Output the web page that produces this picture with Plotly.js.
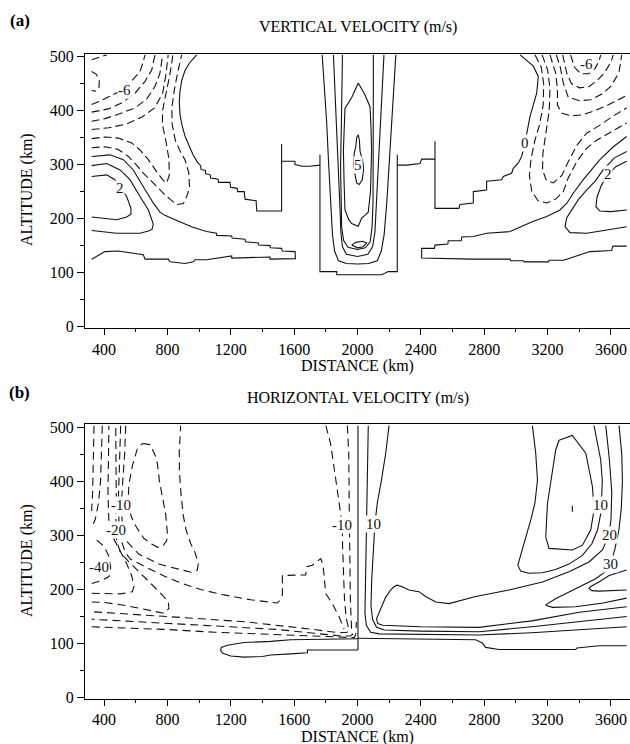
<!DOCTYPE html>
<html><head><meta charset="utf-8">
<script src="https://cdn.plot.ly/plotly-3.0.1.min.js"></script>
<style>body{margin:0;background:#fff}#chart{width:630px;height:744px}</style>
</head><body><div id="chart"></div>
<script>
// ---------- Panel (a): vertical velocity, contour polylines [distance km, altitude km] ----------
const vA_zeroLeft = [[985,503],[940,488],[911,474],[890,455],[879,435],[875,415],[880,392],[893,372],[912,352],[935,335],[962,318],[990,304],[1010,298],[1012,291],[1040,289],[1043,283],[1070,281],[1073,275],[1120,273],[1123,267],[1195,267],[1199,258],[1240,256],[1244,250],[1285,250],[1290,236],[1360,233],[1364,214],[1521,214],[1521,338]];
const vA_shelfLeft = [[1521,306],[1605,306],[1605,300],[1650,297],[1700,297],[1763,299]];
const vA_box = [[1763,318],[1763,102],[1869,102],[1869,96],[2153,96],[2194,102],[2251,102],[2251,318]];
const vA_shelfRight = [[2251,299],[2310,299],[2395,302],[2405,310],[2489,310]];
const vA_zeroRight = [[2489,343],[2489,219],[2640,219],[2647,226],[2731,229],[2731,250],[2815,253],[2815,269],[2910,272],[2920,278],[2973,284],[2983,293],[3015,303],[3036,315],[3047,327],[3057,340],[3089,389],[3131,432],[3141,463],[3110,482],[3026,503]];
const vA_tongueLeft = [[322,315],[438,318],[522,309],[585,290],[648,259],[711,229],[753,212],[785,206],[830,200],[869,195],[960,184],[1048,176],[1110,173],[1112,169],[1206,168],[1209,164],[1290,162],[1293,157],[1374,155],[1377,151],[1448,150],[1451,146],[1521,145],[1525,140],[1606,139],[1608,126],[1448,125],[1448,129],[1290,127],[1206,127],[1206,131],[1048,124],[974,124],[964,120],[911,117],[817,120],[806,125],[659,125],[648,133],[564,136],[490,140],[406,139],[322,125]];
const vA_lobeLeft = [[322,298],[417,302],[501,290],[564,272],[627,241],[680,216],[711,190],[703,180],[680,177],[627,173],[480,173],[322,178]];
const vA_coreLeft = [[322,278],[417,281],[469,272],[504,256],[543,241],[570,219],[570,208],[543,203],[480,198],[396,201],[322,203]];
const vA_tongueRight = [[3699,352],[3615,333],[3530,309],[3425,272],[3362,247],[3320,228],[3278,216],[3194,204],[3110,195],[2984,180],[2963,176],[2815,173],[2731,167],[2658,166],[2655,159],[2573,159],[2570,153],[2489,151],[2486,145],[2405,145],[2405,127],[2721,125],[2963,125],[2966,122],[3047,122],[3052,120],[3205,120],[3210,123],[3299,123],[3320,125],[3405,133],[3467,139],[3604,141],[3612,149],[3699,149]];
const vA_lobeRight = [[3699,185],[3573,179],[3447,173],[3341,174],[3310,185],[3320,201],[3352,216],[3394,235],[3447,253],[3499,269],[3550,290],[3620,312],[3699,324]];
const vA_coreRight = [[3699,216],[3600,213],[3530,214],[3505,222],[3512,240],[3540,262],[3583,282],[3630,296],[3699,306]];
const vA_updraft1 = [[1777,503],[1790,450],[1805,380],[1818,300],[1830,230],[1842,170],[1855,140],[1880,122],[1930,117],[2000,116],[2070,117],[2125,122],[2150,140],[2168,170],[2185,230],[2200,300],[2215,380],[2230,450],[2242,503]];
const vA_updraft2 = [[1848,503],[1858,440],[1868,370],[1878,300],[1888,230],[1895,175],[1905,148],[1930,134],[2000,130],[2065,134],[2095,148],[2110,175],[2120,230],[2132,300],[2145,370],[2156,440],[2167,503]];
const vA_updraft3 = [[1905,503],[1903,440],[1898,370],[1893,300],[1895,230],[1900,185],[1912,160],[1940,147],[2000,143],[2050,146],[2080,157],[2092,185],[2098,230],[2100,300],[2100,370],[2100,440],[2100,503]];
const vA_updraft4 = [[2005,451],[1965,425],[1921,404],[1913,360],[1911,327],[1915,270],[1921,216],[1945,198],[1963,191],[2005,186],[2015,195],[2026,201],[2050,207],[2068,212],[2082,250],[2089,327],[2085,370],[2079,407],[2045,430],[2005,451]];
const vA_updraft5 = [[2005,355],[2012,345],[2016,325],[2034,305],[2038,290],[2030,272],[2010,263],[1995,266],[1985,280],[1976,300],[1979,320],[1990,335],[1995,350],[2005,355]];
const vA_updraftBlip = [[1963,151],[1990,156],[2030,158],[2058,155],[2035,148],[2000,146],[1963,151]];
const vA_negCorner = [[322,494],[370,498],[417,503]];
const vA_negHook = [[322,472],[352,467],[370,455],[368,442],[348,436],[322,437]];
const vA_neg6Left = [[322,411],[364,416],[448,428],[532,440],[575,455],[627,472],[645,488],[659,503]];
const vA_negL4 = [[322,397],[427,403],[511,414],[596,432],[659,454],[701,475],[722,503]];
const vA_negL5 = [[322,380],[406,385],[490,393],[596,405],[669,421],[722,445],[753,469],[770,503]];
const vA_negL6 = [[322,365],[430,368],[540,375],[640,388],[720,405],[770,432],[790,465],[805,503]];
const vA_bowlInner = [[322,348],[406,351],[490,349],[575,340],[627,327],[680,309],[732,287],[770,272],[795,266],[812,280],[810,310],[790,345],[768,375],[770,400],[790,430],[815,465],[835,503]];
const vA_bowlOuter = [[322,331],[406,333],[490,328],[554,315],[606,299],[648,284],[701,269],[743,256],[785,244],[820,235],[859,226],[901,228],[922,241],[940,258],[935,285],[912,308],[880,325],[850,345],[830,375],[828,405],[845,440],[865,470],[890,503]];
const vA_bowlOuterR = [[3120,503],[3160,480],[3175,450],[3172,410],[3150,375],[3120,345],[3095,310],[3085,280],[3100,250],[3140,233],[3194,229],[3250,236],[3299,250],[3330,275],[3383,305],[3446,330],[3509,345],[3594,360],[3699,377]];
const vA_bowlInnerR = [[3165,503],[3200,475],[3215,440],[3210,400],[3190,360],[3170,320],[3168,290],[3190,272],[3236,266],[3290,280],[3330,305],[3383,335],[3446,358],[3530,373],[3615,390],[3699,405]];
const vA_negR3 = [[3215,503],[3250,470],[3262,440],[3262,410],[3290,395],[3350,390],[3420,392],[3500,400],[3580,410],[3650,420],[3699,428]];
const vA_negR4 = [[3255,503],[3280,480],[3300,450],[3330,425],[3400,418],[3470,420],[3540,430],[3600,445],[3650,470],[3668,503]];
const vA_negR5 = [[3295,503],[3320,470],[3350,450],[3400,442],[3460,444],[3510,455],[3560,470],[3600,490],[3615,503]];
const vA_neg6Right = [[3345,503],[3370,480],[3410,468],[3460,468],[3500,478],[3525,492],[3535,503]];

// ---------- Panel (b): horizontal velocity ----------
const uB_zeroVert = [[2003,503],[2003,88]];
const uB_zeroLeft = [[2003,109],[1726,108],[1578,107],[1452,104],[1284,102],[1178,97],[1140,93],[1136,87],[1150,82],[1200,77],[1284,75],[1400,76],[1452,79],[1578,81],[1684,83],[1684,88],[2003,88]];
const uB_zeroRight = [[2003,110],[2300,109],[2746,107],[2788,101],[2809,93],[2893,89],[3377,89],[3385,92],[3524,96],[3699,96]];
const uB_pos10a = [[2068,503],[2064,440],[2058,360],[2052,280],[2047,200],[2047,156],[2056,134],[2083,121],[2136,118],[2400,117],[2767,116],[3100,120],[3400,125],[3699,131]];
const uB_pos10b = [[2199,503],[2178,452],[2150,400],[2125,360],[2110,322],[2098,270],[2090,220],[2085,170],[2095,145],[2120,130],[2170,125],[2400,123],[2767,122],[3100,131],[3400,141],[3699,150]];
const uB_pos20 = [[3567,503],[3590,440],[3605,380],[3600,330],[3588,301],[3546,273],[3461,251],[3335,233],[3167,214],[2956,199],[2746,187],[2578,174],[2494,177],[2430,187],[2388,196],[2325,199],[2283,205],[2250,208],[2230,205],[2209,199],[2178,186],[2157,172],[2136,158],[2120,146],[2128,137],[2160,134],[2400,131],[2767,130],[3100,142],[3400,158],[3699,168]];
const uB_pos10U = [[3104,503],[3125,452],[3136,402],[3120,360],[3095,330],[3060,295],[3025,262],[3012,245],[3030,234],[3080,230],[3167,231],[3250,237],[3335,247],[3420,263],[3480,285],[3515,310],[3535,340],[3540,360],[3545,402],[3535,440],[3515,470],[3493,503]];
const uB_pos30 = [[3651,503],[3668,450],[3672,400],[3665,350],[3650,310],[3625,275],[3598,247],[3560,232],[3503,220],[3420,208],[3335,196],[3250,183],[3200,174],[3188,171],[3230,167],[3377,168],[3550,175],[3699,184]];
const uB_pos40 = [[3699,236],[3588,226],[3524,214],[3475,206],[3461,202],[3480,198],[3524,197],[3600,198],[3699,199]];
const uB_posLoop = [[3272,476],[3356,485],[3441,452],[3483,390],[3493,347],[3472,310],[3420,282],[3356,273],[3209,276],[3188,297],[3199,359],[3230,421],[3251,458],[3272,476]];
const uB_posDot = [[3356,344],[3356,355]];
const uB_neg40 = [[322,211],[379,216],[432,224],[442,240],[430,262],[400,280],[360,290],[322,293]];
const uB_negEdge1 = [[337,503],[335,460],[332,420],[328,380],[322,345]];
const uB_negEdge2 = [[389,503],[385,450],[378,400],[365,360],[345,330],[322,315]];
const uB_neg193 = [[322,193],[421,192],[505,192],[579,196],[589,205],[575,225],[540,250],[490,278],[450,300],[430,330],[425,380],[428,440],[431,503]];
const uB_neg20 = [[322,177],[400,176],[526,171],[631,165],[716,159],[779,156],[810,165],[805,178],[758,193],[694,211],[631,230],[568,248],[505,267],[480,290],[474,310],[478,360],[476,420],[474,503]];
const uB_negStep = [[505,503],[500,450],[492,400],[490,360],[495,320],[510,290],[535,268],[568,256],[673,240],[779,225],[884,212],[1010,200],[1157,190],[1326,181],[1494,175],[1512,181],[1526,190],[1526,226],[1673,227],[1680,242],[1715,245],[1750,252],[1768,257],[1780,248],[1788,230],[1799,193],[1841,174],[1883,150],[1904,134],[1915,127]];
const uB_negU = [[537,503],[530,450],[518,400],[510,356],[515,320],[540,290],[621,265],[747,247],[880,237],[950,232],[989,236],[995,248],[975,268],[947,285],[920,308],[900,337],[885,380],[876,420],[875,455],[884,503]];
const uB_negLoop = [[642,470],[690,468],[720,450],[737,433],[750,400],[768,370],[789,340],[800,304],[795,290],[770,280],[740,278],[700,284],[650,295],[605,315],[572,335],[552,360],[557,395],[580,430],[610,460],[642,470]];
const uB_negV1 = [[1800,503],[1830,470],[1850,430],[1875,380],[1895,340],[1904,319],[1906,280],[1910,230],[1918,180],[1930,145],[1945,127],[1935,121],[1880,120],[1726,126],[1500,134],[1300,140],[1010,146],[800,150],[589,154],[442,157],[322,159]];
const uB_negV2 = [[1936,503],[1945,450],[1948,350],[1950,250],[1955,180],[1962,130],[1968,117],[1955,114],[1900,114],[1726,119],[1500,126],[1200,131],[900,136],[650,140],[450,143],[322,145]];
const uB_negN3 = [[322,131],[500,129],[800,126],[1100,121],[1450,117],[1726,113],[1900,111],[1980,111],[1990,118],[1993,140]];

// contour labels: [text, distance, altitude]
const labelsA = [["-6",532,438],["2",504,256],["5",2003,300],["0",3057,340],["-6",3446,486],["2",3583,283]];
const labelsB = [["-10",505,356],["-20",474,310],["-40",368,242],["-10",1904,319],["10",2104,322],["10",3535,356],["20",3588,301],["30",3598,247]];

const solidA = [vA_zeroLeft,vA_shelfLeft,vA_box,vA_shelfRight,vA_zeroRight,vA_tongueLeft,vA_lobeLeft,vA_coreLeft,vA_tongueRight,vA_lobeRight,vA_coreRight,vA_updraft1,vA_updraft2,vA_updraft3,vA_updraft4,vA_updraft5,vA_updraftBlip];
const dashA = [vA_negCorner,vA_negHook,vA_neg6Left,vA_negL4,vA_negL5,vA_negL6,vA_bowlInner,vA_bowlOuter,vA_bowlOuterR,vA_bowlInnerR,vA_negR3,vA_negR4,vA_negR5,vA_neg6Right];
const solidB = [uB_zeroVert,uB_zeroLeft,uB_zeroRight,uB_pos10a,uB_pos10b,uB_pos20,uB_pos10U,uB_pos30,uB_pos40,uB_posLoop,uB_posDot];
const dashB = [uB_neg40,uB_negEdge1,uB_negEdge2,uB_neg193,uB_neg20,uB_negStep,uB_negU,uB_negLoop,uB_negV1,uB_negV2,uB_negN3];

function line(pts, panel, dash){
  return {x: pts.map(p=>p[0]), y: pts.map(p=>p[1]),
    xaxis: panel==='a'?'x':'x2', yaxis: panel==='a'?'y':'y2',
    type:'scatter', mode:'lines', hoverinfo:'skip', showlegend:false,
    line:{color:'#111', width:1.1, dash: dash||'solid'}};
}
const traces = [];
solidA.forEach(p=>traces.push(line(p,'a')));
dashA.forEach(p=>traces.push(line(p,'a','8px,4px')));
solidB.forEach(p=>traces.push(line(p,'b')));
dashB.forEach(p=>traces.push(line(p,'b','8px,5px')));

const serif = 'Liberation Serif';
function lab(l, panel){
  return {text:l[0], x:l[1], y:l[2], xref: panel==='a'?'x':'x2', yref: panel==='a'?'y':'y2',
    showarrow:false, bgcolor:'#fff', borderpad:0, font:{family:serif, size:15, color:'#111'}};
}
const ann = [];
labelsA.forEach(l=>ann.push(lab(l,'a')));
labelsB.forEach(l=>ann.push(lab(l,'b')));
function txt(t, x, y, size, extra){
  return Object.assign({text:t, x:x, y:y, xref:'paper', yref:'paper', showarrow:false,
    xanchor:'center', yanchor:'middle', font:{family:serif, size:size, color:'#000'}}, extra||{});
}
ann.push(txt('<b>(a)</b>', -0.1193, 0.9731, 17));
ann.push(txt('<b>(b)</b>', -0.1193, 0.4731, 17));
ann.push(txt('VERTICAL VELOCITY (m/s)', 0.5, 0.9637, 16));
ann.push(txt('HORIZONTAL VELOCITY (m/s)', 0.5, 0.4651, 16));
ann.push(txt('DISTANCE (km)', 0.5, 0.5081, 16));
ann.push(txt('DISTANCE (km)', 0.5, 0.0090, 16));
ann.push(txt('ALTITUDE (km)', -0.1064, 0.7446, 16, {textangle:-90}));
ann.push(txt('ALTITUDE (km)', -0.1064, 0.2460, 16, {textangle:-90}));

function xax(anchor){
  return {anchor:anchor, domain:[0,1], range:[280,3720], tickmode:'linear', tick0:400, dtick:400,
    ticks:'outside', ticklen:6, tickwidth:1, tickcolor:'#000', showline:true, linecolor:'#000', linewidth:1,
    mirror:true, showgrid:false, zeroline:false, tickfont:{family:serif, size:16, color:'#000'},
    minor:{ticks:'outside', ticklen:3, tick0:200, dtick:200, tickcolor:'#000', showgrid:false}};
}
function yax(anchor, dom, rng){
  return {anchor:anchor, domain:dom, range:rng, tickmode:'linear', tick0:0, dtick:100,
    ticks:'outside', ticklen:7, tickwidth:1, tickcolor:'#000', showline:true, linecolor:'#000', linewidth:1,
    showgrid:false, zeroline:false, tickfont:{family:serif, size:16, color:'#000'},
    minor:{ticks:'outside', ticklen:4, tick0:0, dtick:50, tickcolor:'#000', showgrid:false}};
}
const layout = {
  width:630, height:744, margin:{l:85, r:0, t:0, b:0},
  paper_bgcolor:'#fff', plot_bgcolor:'#fff', showlegend:false,
  font:{family:serif},
  xaxis: xax('y'), yaxis: yax('x',[0.5587,0.9270],[-3,504]),
  xaxis2: xax('y2'), yaxis2: yax('x2',[0.0601,0.4297],[-3,505.5]),
  annotations: ann
};
Plotly.newPlot('chart', traces, layout, {staticPlot:true, displayModeBar:false});
</script></body></html>
